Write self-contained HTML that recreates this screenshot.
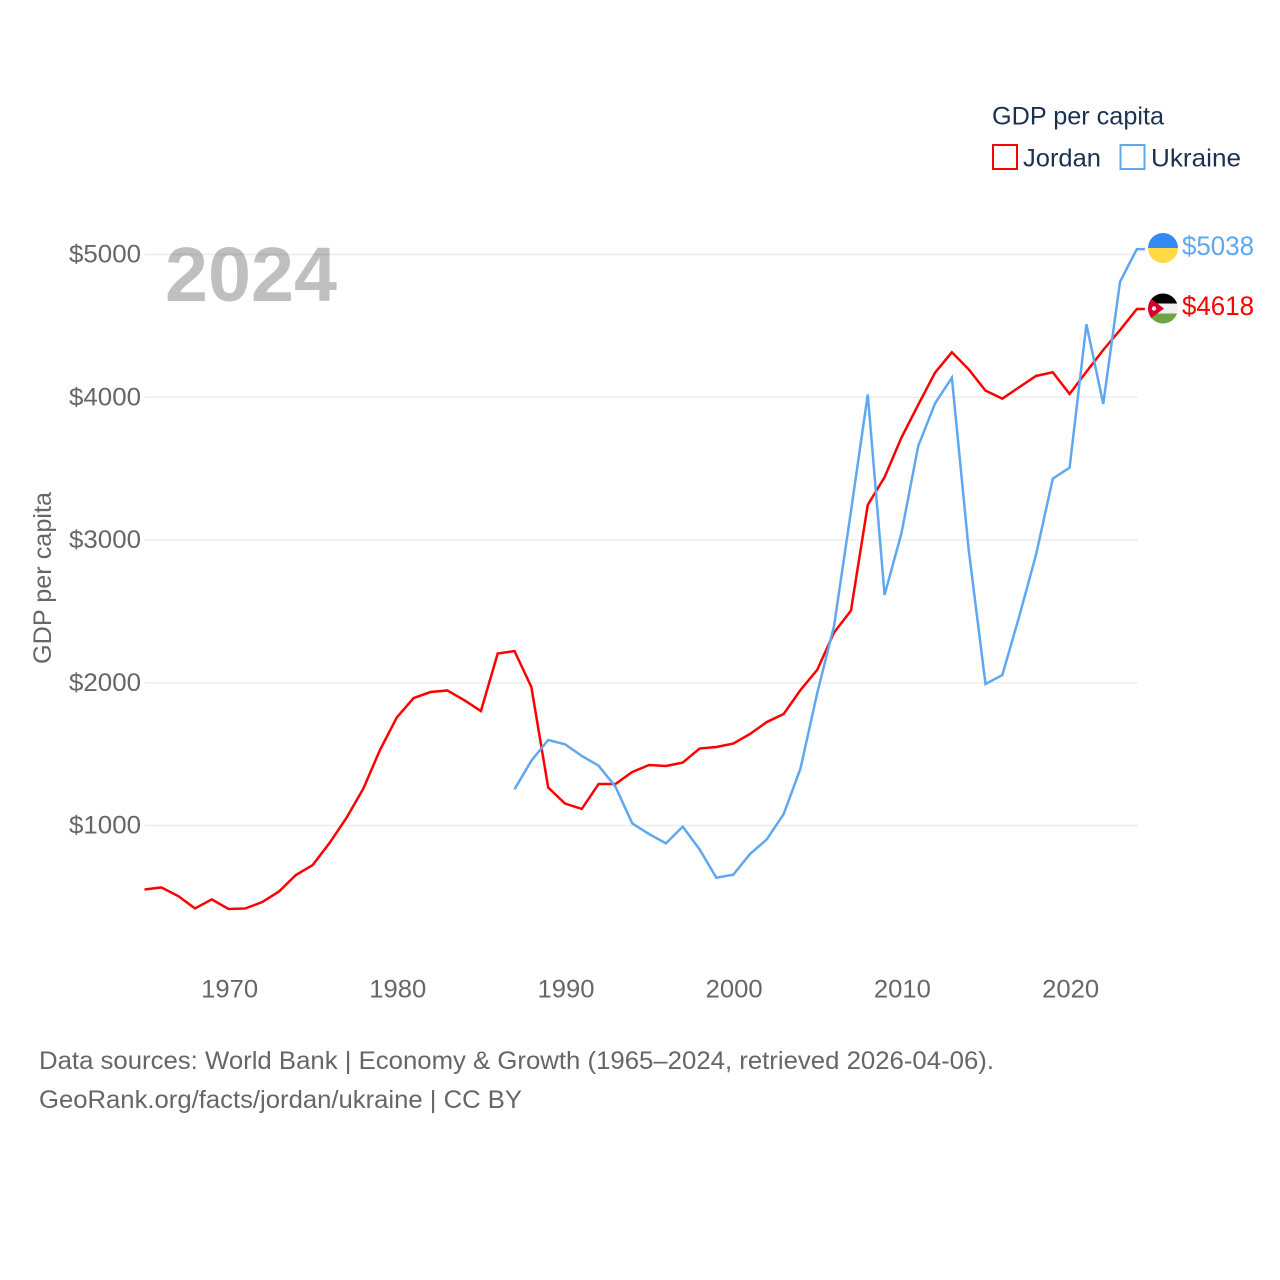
<!DOCTYPE html>
<html lang="en">
<head>
<meta charset="utf-8">
<title>GDP per capita: Jordan and Ukraine</title>
<style>
html,body{margin:0;padding:0;background:#fff;width:1280px;height:1280px;overflow:hidden}
svg{display:block}
text{font-family:"Liberation Sans",sans-serif}
</style>
</head>
<body>
<svg id="chart" xmlns="http://www.w3.org/2000/svg" width="1280" height="1280" viewBox="0 0 1280 1280">
  <defs>
    <clipPath id="flag-clip-ua"><circle cx="1163" cy="248" r="15"/></clipPath>
    <clipPath id="flag-clip-jo"><circle cx="1163" cy="308.5" r="15"/></clipPath>
  </defs>
  <rect width="1280" height="1280" fill="#fff"/>
  <g id="grid"></g>
  <g id="yticks"></g>
  <g id="xticks"></g>
  <text x="165" y="301" font-size="77" font-weight="700" fill="#000" fill-opacity="0.25" textLength="172" lengthAdjust="spacingAndGlyphs">2024</text>
  <text transform="translate(51,578) rotate(-90)" text-anchor="middle" font-size="25" fill="#666" textLength="172" lengthAdjust="spacingAndGlyphs">GDP per capita</text>
  <g id="series"></g>

  <g>
    <text x="992" y="124.5" font-size="25" fill="#1a3150" textLength="172" lengthAdjust="spacingAndGlyphs">GDP per capita</text>
    <g>
      <rect x="993" y="145" width="24" height="24" fill="none" stroke="#ff0000" stroke-width="2"/>
      <text x="1023" y="166.5" font-size="25" fill="#1a3150" textLength="78" lengthAdjust="spacingAndGlyphs">Jordan</text>
    </g>
    <g>
      <rect x="1120.5" y="145" width="24" height="24" fill="none" stroke="#5fa8f0" stroke-width="2"/>
      <text x="1151" y="166.5" font-size="25" fill="#1a3150" textLength="90" lengthAdjust="spacingAndGlyphs">Ukraine</text>
    </g>
  </g>

  <g clip-path="url(#flag-clip-ua)">
    <rect x="1148" y="233" width="30" height="15" fill="#338af3"/>
    <rect x="1148" y="248" width="30" height="15" fill="#ffda44"/>
  </g>
  <g clip-path="url(#flag-clip-jo)">
    <rect x="1148" y="293.5" width="30" height="10" fill="#000"/>
    <rect x="1148" y="303.5" width="30" height="10" fill="#f0f0f0"/>
    <rect x="1148" y="313.5" width="30" height="10" fill="#6da544"/>
    <polygon points="1146,295 1146,322 1164,308.5" fill="#d80027"/>
    <circle cx="1154" cy="308.5" r="2.2" fill="#f0f0f0"/>
  </g>
  <g id="endlabels"></g>

  <g>
    <text x="39" y="1069" font-size="25" fill="#666" textLength="955" lengthAdjust="spacingAndGlyphs">Data sources: World Bank | Economy &amp; Growth (1965–2024, retrieved 2026-04-06).</text>
    <text x="39" y="1108" font-size="25" fill="#666" textLength="483" lengthAdjust="spacingAndGlyphs">GeoRank.org/facts/jordan/ukraine | CC BY</text>
  </g>
</svg>
<script>
var startYear = 1965;
var xTickYears = [1970, 1980, 1990, 2000, 2010, 2020];
var yTickValues = [1000, 2000, 3000, 4000, 5000];
var jordanStartYear = 1965;
var jordanValues = [552,566,506,419,482,415,419,464,538,653,723,877,1052,1256,1529,1757,1893,1935,1946,1879,1802,2205,2222,1970,1266,1154,1116,1291,1291,1375,1424,1417,1441,1539,1550,1574,1641,1725,1781,1949,2091,2353,2505,3246,3440,3717,3947,4172,4315,4196,4046,3990,4070,4149,4175,4023,4179,4331,4471,4618];
var ukraineStartYear = 1987;
var ukraineValues = [1254,1454,1599,1569,1487,1419,1272,1015,940,875,992,833,634,655,800,903,1080,1399,1930,2401,3200,4019,2615,3046,3658,3957,4137,2932,1991,2054,2463,2895,3430,3507,4511,3953,4810,5038];

var SVG_NS = 'http://www.w3.org/2000/svg';
function xScale(year) { return 144.5 + (year - 1965) * 16.82; }
function yScale(value) { return 825.5 - (value - 1000) * 0.14275; }
function make(tag, attrs, parent, content) {
  var el = document.createElementNS(SVG_NS, tag);
  for (var k in attrs) el.setAttribute(k, attrs[k]);
  if (content !== undefined) el.textContent = content;
  parent.appendChild(el);
  return el;
}

var gridGroup = document.getElementById('grid');
var yGroup = document.getElementById('yticks');
var xGroup = document.getElementById('xticks');
var seriesGroup = document.getElementById('series');
var endGroup = document.getElementById('endlabels');

yTickValues.forEach(function (v) {
  var line = make('line', {x1: 144.5, x2: 1137.5, y1: yScale(v), y2: yScale(v), stroke: '#ececec', 'stroke-width': 1.5}, gridGroup);
  
  
  var label = make('text', {x: 141, y: yScale(v) + 8, 'text-anchor': 'end', 'font-size': 25, fill: '#666', textLength: 72, lengthAdjust: 'spacingAndGlyphs'}, yGroup, '$' + v);
  
  
});

xTickYears.forEach(function (yr) {
  var label = make('text', {x: xScale(yr) + 1, y: 997.5, 'text-anchor': 'middle', 'font-size': 25, fill: '#666', textLength: 57, lengthAdjust: 'spacingAndGlyphs'}, xGroup, String(yr));
  
  
});

function drawSeries(values, firstYear, color, name) {
  var pts = values.map(function (v, i) {
    return xScale(firstYear + i).toFixed(2) + ',' + yScale(v).toFixed(2);
  });
  var lastY = yScale(values[values.length - 1]);
  pts.push((xScale(firstYear + values.length - 1) + 8).toFixed(2) + ',' + lastY.toFixed(2));
  var line = make('polyline', {points: pts.join(' '), fill: 'none', stroke: color, 'stroke-width': 2.5, 'stroke-linejoin': 'miter'}, seriesGroup);
  
  
  var label = make('text', {x: 1182, y: lastY + 6, 'font-size': 27, fill: color, textLength: 72, lengthAdjust: 'spacingAndGlyphs'}, endGroup, '$' + values[values.length - 1]);
  
  
}
drawSeries(jordanValues, jordanStartYear, '#ff0000', 'jordan');
drawSeries(ukraineValues, ukraineStartYear, '#5fa8f0', 'ukraine');
</script>
</body>
</html>
